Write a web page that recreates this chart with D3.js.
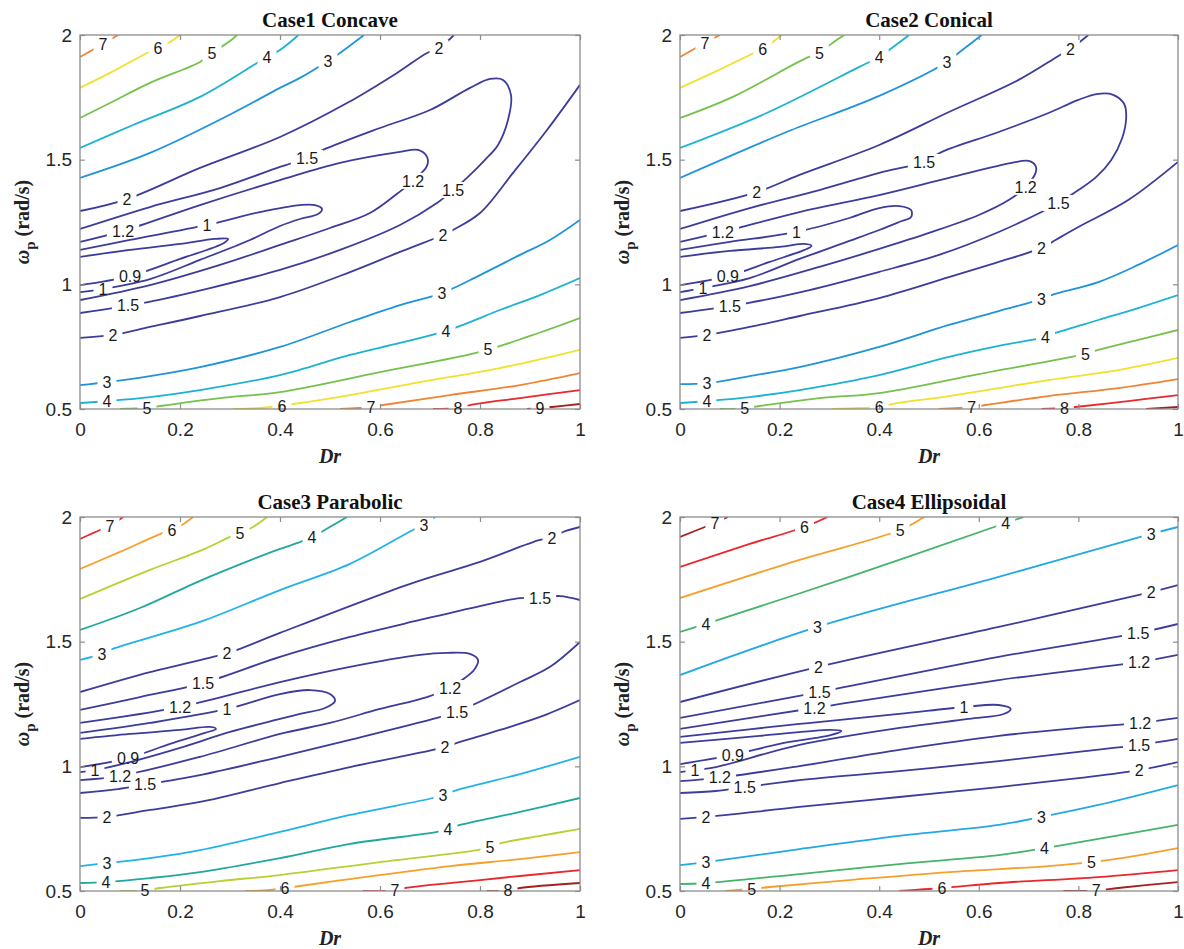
<!DOCTYPE html>
<html>
<head>
<meta charset="utf-8">
<script src="https://cdn.jsdelivr.net/npm/d3@7"></script>
<style>
  body { margin: 0; background: #fff; overflow: hidden; }
</style>
</head>
<body>
<div id="chart"></div>
<script>
// ---- data: [Dr, omega_p] points along each contour ----
const xTicks = [0, 0.2, 0.4, 0.6, 0.8, 1];
const yTicks = [0.5, 1, 1.5, 2];
const caseTitles = ["Case1 Concave", "Case2 Conical", "Case3 Parabolic", "Case4 Ellipsoidal"];
const xLabel = "Dr";

const case1Contours = [
  {level: 7, pts: [[0,1.912],[0.046,1.964],[0.076,2.0]], labels: [[0.046,1.964]]},
  {level: 6, pts: [[0,1.788],[0.06,1.848],[0.134,1.928],[0.156,1.948],[0.18,1.972],[0.2,2.0]], labels: [[0.156,1.948]]},
  {level: 5, pts: [[0,1.667],[0.06,1.727],[0.14,1.808],[0.24,1.892],[0.264,1.928],[0.30,1.976],[0.314,2.0]], labels: [[0.264,1.928]]},
  {level: 4, pts: [[0,1.547],[0.106,1.639],[0.24,1.752],[0.354,1.888],[0.374,1.912],[0.40,1.94],[0.437,2.0]], labels: [[0.374,1.912]]},
  {level: 3, pts: [[0,1.427],[0.14,1.527],[0.306,1.687],[0.40,1.788],[0.44,1.828],[0.496,1.896],[0.52,1.928],[0.568,2.0]], labels: [[0.496,1.896]]},
  {level: 2, pts: [[0,1.294],[0.094,1.342],[0.24,1.467],[0.40,1.591],[0.534,1.727],[0.634,1.848],[0.694,1.928],[0.718,1.948],[0.748,2.0]], labels: [[0.094,1.342],[0.718,1.948]]},
  {level: 1.5, pts: [[0,1.222],[0.14,1.310],[0.28,1.386],[0.40,1.471],[0.454,1.507],[0.486,1.539],[0.60,1.627],[0.70,1.699],[0.78,1.788],[0.82,1.824],[0.846,1.820],[0.862,1.759],[0.856,1.659],[0.836,1.559],[0.81,1.499],[0.776,1.431],[0.746,1.378],[0.714,1.326],[0.64,1.238],[0.52,1.138],[0.40,1.058],[0.26,0.985],[0.136,0.929],[0,0.885]], labels: [[0.454,1.507],[0.746,1.378],[0.096,0.917]]},
  {level: 1.2, pts: [[0,1.170],[0.086,1.214],[0.24,1.318],[0.40,1.418],[0.52,1.487],[0.64,1.531],[0.676,1.539],[0.694,1.511],[0.694,1.475],[0.666,1.415],[0.636,1.366],[0.58,1.286],[0.50,1.226],[0.40,1.158],[0.28,1.078],[0.14,0.997],[0,0.937]], labels: [[0.086,1.214],[0.666,1.415]]},
  {level: 1, pts: [[0,1.138],[0.10,1.178],[0.254,1.238],[0.36,1.290],[0.44,1.318],[0.47,1.318],[0.484,1.302],[0.476,1.282],[0.44,1.262],[0.40,1.234],[0.34,1.178],[0.24,1.098],[0.14,1.021],[0.046,0.981],[0,0.969]], labels: [[0.254,1.238],[0.046,0.981]]},
  {level: 0.9, pts: [[0,1.110],[0.10,1.138],[0.20,1.162],[0.27,1.182],[0.296,1.182],[0.288,1.166],[0.20,1.102],[0.10,1.033],[0,0.997]], labels: [[0.10,1.033]]},
  {level: 2, pts: [[0,0.785],[0.066,0.797],[0.14,0.829],[0.24,0.873],[0.40,0.949],[0.54,1.049],[0.64,1.130],[0.726,1.198],[0.746,1.218],[0.80,1.286],[0.866,1.447],[0.934,1.619],[1.0,1.80]], labels: [[0.066,0.797],[0.726,1.198]]},
  {level: 3, pts: [[0,0.596],[0.054,0.608],[0.14,0.632],[0.24,0.668],[0.40,0.749],[0.54,0.849],[0.64,0.917],[0.724,0.965],[0.80,1.037],[0.88,1.118],[0.94,1.178],[1.0,1.258]], labels: [[0.054,0.608],[0.724,0.965]]},
  {level: 4, pts: [[0,0.524],[0.054,0.532],[0.14,0.548],[0.24,0.576],[0.40,0.636],[0.54,0.717],[0.64,0.765],[0.732,0.813],[0.84,0.897],[0.92,0.957],[1.0,1.025]], labels: [[0.054,0.532],[0.732,0.813]]},
  {level: 5, pts: [[0.08,0.5],[0.134,0.504],[0.16,0.512],[0.28,0.544],[0.40,0.568],[0.60,0.648],[0.80,0.729],[0.90,0.793],[1.0,0.865]], labels: [[0.134,0.504],[0.816,0.741]]},
  {level: 6, pts: [[0.306,0.5],[0.36,0.504],[0.426,0.52],[0.54,0.556],[0.68,0.608],[0.84,0.664],[1.0,0.737]], labels: [[0.404,0.512]]},
  {level: 7, pts: [[0.52,0.5],[0.582,0.508],[0.606,0.516],[0.74,0.556],[0.88,0.596],[1.0,0.644]], labels: [[0.582,0.508]]},
  {level: 8, pts: [[0.706,0.5],[0.756,0.504],[0.78,0.516],[0.88,0.544],[1.0,0.576]], labels: [[0.756,0.504]]},
  {level: 9, pts: [[0.894,0.5],[0.92,0.504],[0.944,0.508],[1.0,0.52]], labels: [[0.92,0.504]]}
];

const case2Contours = [
  {level: 7, pts: [[0,1.912],[0.05,1.968],[0.08,2.0]], labels: [[0.05,1.968]]},
  {level: 6, pts: [[0,1.788],[0.07,1.852],[0.14,1.920],[0.166,1.944],[0.204,2.0]], labels: [[0.166,1.944]]},
  {level: 5, pts: [[0,1.667],[0.106,1.752],[0.254,1.908],[0.28,1.928],[0.306,1.968],[0.33,2.0]], labels: [[0.28,1.928]]},
  {level: 4, pts: [[0,1.547],[0.174,1.687],[0.36,1.872],[0.40,1.912],[0.42,1.94],[0.46,2.0]], labels: [[0.40,1.912]]},
  {level: 3, pts: [[0,1.427],[0.214,1.611],[0.40,1.756],[0.536,1.892],[0.554,1.920],[0.606,2.0]], labels: [[0.536,1.892]]},
  {level: 2, pts: [[0,1.294],[0.154,1.370],[0.24,1.439],[0.40,1.559],[0.54,1.691],[0.68,1.820],[0.76,1.916],[0.784,1.944],[0.82,2.0]], labels: [[0.154,1.370],[0.784,1.944]]},
  {level: 1.5, pts: [[0,1.222],[0.14,1.306],[0.28,1.378],[0.40,1.447],[0.49,1.491],[0.526,1.531],[0.64,1.611],[0.74,1.687],[0.80,1.740],[0.84,1.764],[0.87,1.760],[0.892,1.723],[0.896,1.671],[0.888,1.587],[0.866,1.499],[0.836,1.431],[0.80,1.378],[0.76,1.326],[0.726,1.290],[0.64,1.210],[0.52,1.118],[0.40,1.050],[0.26,0.977],[0.136,0.925],[0,0.885]], labels: [[0.49,1.491],[0.76,1.326],[0.10,0.913]]},
  {level: 1.2, pts: [[0,1.170],[0.086,1.210],[0.24,1.290],[0.40,1.358],[0.54,1.427],[0.666,1.487],[0.70,1.495],[0.714,1.475],[0.714,1.447],[0.694,1.391],[0.66,1.338],[0.60,1.278],[0.50,1.206],[0.40,1.142],[0.28,1.070],[0.14,0.993],[0,0.937]], labels: [[0.086,1.210],[0.694,1.391]]},
  {level: 1, pts: [[0,1.138],[0.10,1.170],[0.234,1.210],[0.34,1.266],[0.40,1.306],[0.44,1.314],[0.464,1.298],[0.464,1.270],[0.44,1.250],[0.40,1.218],[0.34,1.174],[0.24,1.102],[0.14,1.025],[0.046,0.985],[0,0.969]], labels: [[0.234,1.210],[0.046,0.985]]},
  {level: 0.9, pts: [[0,1.110],[0.10,1.134],[0.20,1.150],[0.25,1.162],[0.264,1.154],[0.25,1.138],[0.18,1.090],[0.096,1.033],[0,0.997]], labels: [[0.096,1.033]]},
  {level: 2, pts: [[0,0.785],[0.054,0.797],[0.14,0.829],[0.24,0.873],[0.40,0.945],[0.54,1.029],[0.64,1.090],[0.726,1.146],[0.754,1.178],[0.80,1.230],[0.90,1.338],[1.0,1.491]], labels: [[0.054,0.797],[0.726,1.146]]},
  {level: 3, pts: [[0,0.600],[0.054,0.604],[0.14,0.632],[0.24,0.668],[0.40,0.749],[0.54,0.837],[0.64,0.893],[0.726,0.941],[0.746,0.957],[0.84,1.009],[0.92,1.078],[1.0,1.158]], labels: [[0.054,0.604],[0.726,0.941]]},
  {level: 4, pts: [[0,0.524],[0.054,0.532],[0.14,0.548],[0.24,0.576],[0.40,0.636],[0.54,0.709],[0.64,0.753],[0.734,0.789],[0.754,0.805],[0.84,0.857],[0.92,0.905],[1.0,0.957]], labels: [[0.054,0.532],[0.734,0.789]]},
  {level: 5, pts: [[0.08,0.5],[0.13,0.502],[0.16,0.512],[0.28,0.544],[0.40,0.564],[0.60,0.640],[0.814,0.721],[0.84,0.737],[0.92,0.777],[1.0,0.817]], labels: [[0.13,0.504],[0.814,0.721]]},
  {level: 6, pts: [[0.306,0.5],[0.36,0.504],[0.40,0.508],[0.426,0.52],[0.54,0.552],[0.74,0.616],[0.88,0.656],[1.0,0.705]], labels: [[0.40,0.508]]},
  {level: 7, pts: [[0.52,0.5],[0.586,0.508],[0.614,0.516],[0.74,0.552],[0.88,0.584],[1.0,0.620]], labels: [[0.586,0.508]]},
  {level: 8, pts: [[0.726,0.5],[0.772,0.504],[0.794,0.508],[0.90,0.532],[1.0,0.556]], labels: [[0.772,0.504]]},
  {level: 9, pts: [[0.936,0.5],[1.0,0.508]], labels: []}
];

const case3Contours = [
  {level: 7, pts: [[0,1.912],[0.04,1.948],[0.06,1.964],[0.086,2.0]], labels: [[0.06,1.964]]},
  {level: 6, pts: [[0,1.792],[0.08,1.860],[0.166,1.936],[0.184,1.948],[0.204,1.968],[0.226,2.0]], labels: [[0.184,1.948]]},
  {level: 5, pts: [[0,1.671],[0.14,1.788],[0.24,1.864],[0.30,1.920],[0.32,1.936],[0.346,1.960],[0.374,2.0]], labels: [[0.32,1.936]]},
  {level: 4, pts: [[0,1.547],[0.12,1.635],[0.24,1.744],[0.34,1.826],[0.40,1.872],[0.446,1.904],[0.464,1.920],[0.486,1.944],[0.534,2.0]], labels: [[0.464,1.920]]},
  {level: 3, pts: [[0,1.427],[0.044,1.451],[0.06,1.467],[0.24,1.579],[0.40,1.707],[0.54,1.812],[0.666,1.948],[0.688,1.968],[0.71,2.0]], labels: [[0.044,1.451],[0.688,1.968]]},
  {level: 2, pts: [[0,1.298],[0.14,1.378],[0.266,1.439],[0.294,1.455],[0.314,1.467],[0.40,1.535],[0.666,1.736],[0.80,1.820],[0.92,1.908],[0.944,1.916],[0.966,1.940],[1.0,1.960]], labels: [[0.294,1.455],[0.944,1.916]]},
  {level: 1.5, pts: [[0,1.226],[0.12,1.278],[0.246,1.334],[0.40,1.439],[0.54,1.519],[0.68,1.587],[0.80,1.643],[0.88,1.675],[0.92,1.675],[0.96,1.683],[1.0,1.667]], labels: [[0.246,1.334],[0.92,1.675]]},
  {level: 1.5, pts: [[1.0,1.499],[0.94,1.399],[0.88,1.338],[0.794,1.254],[0.754,1.218],[0.714,1.194],[0.54,1.106],[0.40,1.038],[0.24,0.965],[0.13,0.927],[0.076,0.909],[0,0.893]], labels: [[0.754,1.218],[0.13,0.927]]},
  {level: 1.2, pts: [[0,1.174],[0.20,1.238],[0.40,1.338],[0.54,1.399],[0.68,1.447],[0.734,1.455],[0.78,1.451],[0.796,1.427],[0.788,1.386],[0.764,1.346],[0.74,1.314],[0.694,1.278],[0.60,1.230],[0.50,1.174],[0.40,1.130],[0.24,1.038],[0.08,0.962],[0,0.945]], labels: [[0.20,1.238],[0.74,1.314],[0.08,0.962]]},
  {level: 1, pts: [[0,1.134],[0.14,1.174],[0.294,1.230],[0.40,1.290],[0.46,1.306],[0.50,1.290],[0.51,1.262],[0.49,1.234],[0.44,1.210],[0.40,1.190],[0.30,1.138],[0.20,1.074],[0.10,1.017],[0.03,0.985],[0,0.977]], labels: [[0.294,1.230],[0.03,0.985]]},
  {level: 0.9, pts: [[0,1.110],[0.10,1.130],[0.20,1.146],[0.26,1.158],[0.272,1.150],[0.25,1.134],[0.18,1.090],[0.096,1.033],[0,0.997]], labels: [[0.096,1.033]]},
  {level: 2, pts: [[0,0.793],[0.054,0.797],[0.14,0.825],[0.24,0.857],[0.40,0.933],[0.54,0.997],[0.706,1.066],[0.73,1.078],[0.754,1.094],[0.84,1.146],[0.92,1.198],[1.0,1.266]], labels: [[0.054,0.797],[0.73,1.078]]},
  {level: 3, pts: [[0,0.600],[0.054,0.612],[0.14,0.632],[0.24,0.664],[0.40,0.737],[0.54,0.805],[0.706,0.873],[0.726,0.885],[0.754,0.905],[0.88,0.969],[1.0,1.038]], labels: [[0.054,0.612],[0.726,0.885]]},
  {level: 4, pts: [[0,0.532],[0.052,0.536],[0.14,0.552],[0.24,0.576],[0.40,0.632],[0.54,0.689],[0.714,0.737],[0.736,0.749],[0.76,0.765],[0.88,0.817],[1.0,0.873]], labels: [[0.052,0.536],[0.736,0.749]]},
  {level: 5, pts: [[0.08,0.5],[0.13,0.502],[0.16,0.512],[0.28,0.540],[0.40,0.564],[0.60,0.616],[0.794,0.664],[0.82,0.676],[0.844,0.693],[0.92,0.721],[1.0,0.749]], labels: [[0.13,0.504],[0.82,0.676]]},
  {level: 6, pts: [[0.33,0.5],[0.38,0.504],[0.41,0.512],[0.426,0.516],[0.54,0.548],[0.74,0.600],[0.88,0.628],[1.0,0.656]], labels: [[0.41,0.512]]},
  {level: 7, pts: [[0.566,0.5],[0.63,0.502],[0.65,0.512],[0.80,0.544],[1.0,0.584]], labels: [[0.63,0.504]]},
  {level: 8, pts: [[0.814,0.5],[0.856,0.502],[0.88,0.512],[1.0,0.532]], labels: [[0.856,0.504]]}
];

const case4Contours = [
  {level: 7, pts: [[0,1.920],[0.05,1.960],[0.07,1.976],[0.096,2.0]], labels: [[0.07,1.976]]},
  {level: 6, pts: [[0,1.800],[0.14,1.892],[0.25,1.960],[0.296,2.0]], labels: [[0.25,1.960]]},
  {level: 5, pts: [[0,1.675],[0.24,1.828],[0.442,1.948],[0.49,2.0]], labels: [[0.442,1.948]]},
  {level: 4, pts: [[0,1.539],[0.052,1.571],[0.34,1.760],[0.654,1.976],[0.69,2.0]], labels: [[0.052,1.571],[0.654,1.976]]},
  {level: 3, pts: [[0,1.366],[0.276,1.559],[0.64,1.760],[0.946,1.932],[1.0,1.960]], labels: [[0.276,1.559],[0.946,1.932]]},
  {level: 2, pts: [[0,1.258],[0.278,1.399],[0.64,1.559],[0.946,1.699],[1.0,1.727]], labels: [[0.278,1.399],[0.946,1.699]]},
  {level: 1.5, pts: [[0,1.194],[0.28,1.298],[0.64,1.439],[0.92,1.535],[1.0,1.571]], labels: [[0.28,1.298],[0.92,1.535]]},
  {level: 1.2, pts: [[0,1.150],[0.27,1.234],[0.64,1.346],[0.922,1.419],[1.0,1.447]], labels: [[0.27,1.234],[0.922,1.419]]},
  {level: 1, pts: [[0,1.118],[0.24,1.170],[0.44,1.210],[0.57,1.238],[0.64,1.246],[0.664,1.230],[0.65,1.210],[0.58,1.190],[0.44,1.154],[0.24,1.086],[0.072,0.997],[0.03,0.985],[0,0.977]], labels: [[0.57,1.238],[0.03,0.985]]},
  {level: 0.9, pts: [[0,1.094],[0.16,1.122],[0.30,1.146],[0.324,1.142],[0.304,1.126],[0.20,1.090],[0.106,1.046],[0,1.009]], labels: [[0.106,1.046]]},
  {level: 1.2, pts: [[0,0.941],[0.08,0.955],[0.24,1.001],[0.44,1.066],[0.64,1.122],[0.80,1.154],[0.924,1.174],[1.0,1.194]], labels: [[0.08,0.955],[0.924,1.174]]},
  {level: 1.5, pts: [[0,0.893],[0.072,0.901],[0.13,0.916],[0.24,0.945],[0.44,0.981],[0.64,1.021],[0.80,1.058],[0.922,1.086],[1.0,1.110]], labels: [[0.13,0.916],[0.922,1.086]]},
  {level: 2, pts: [[0,0.789],[0.052,0.797],[0.24,0.837],[0.44,0.877],[0.64,0.917],[0.80,0.953],[0.922,0.985],[1.0,1.017]], labels: [[0.052,0.797],[0.922,0.985]]},
  {level: 3, pts: [[0,0.604],[0.052,0.616],[0.24,0.668],[0.44,0.721],[0.64,0.765],[0.726,0.797],[0.84,0.845],[1.0,0.925]], labels: [[0.052,0.616],[0.726,0.797]]},
  {level: 4, pts: [[0,0.528],[0.052,0.532],[0.24,0.568],[0.44,0.608],[0.64,0.644],[0.732,0.672],[0.84,0.709],[1.0,0.765]], labels: [[0.052,0.532],[0.732,0.672]]},
  {level: 5, pts: [[0.09,0.5],[0.144,0.508],[0.18,0.516],[0.34,0.544],[0.54,0.576],[0.74,0.600],[0.826,0.616],[0.90,0.636],[1.0,0.672]], labels: [[0.144,0.508],[0.826,0.616]]},
  {level: 6, pts: [[0.44,0.5],[0.526,0.512],[0.64,0.532],[0.84,0.556],[1.0,0.584]], labels: [[0.526,0.512]]},
  {level: 7, pts: [[0.77,0.5],[0.836,0.502],[0.88,0.512],[1.0,0.536]], labels: [[0.836,0.504]]}
];

const allCases = [case1Contours, case2Contours, case3Contours, case4Contours];

// ---- styles ----
const indigo = "#3c3c9c";
const paletteA = {0.9: indigo, 1: indigo, 1.2: indigo, 1.5: indigo, 2: indigo,
  3: "#1f93dc", 4: "#1bb3cf", 5: "#74c24c", 6: "#f0e22c", 7: "#f08434", 8: "#e8282c", 9: "#a51f1f"};
const paletteC = {0.9: indigo, 1: indigo, 1.2: indigo, 1.5: indigo, 2: indigo,
  3: "#22b2ea", 4: "#20a79e", 5: "#b5d232", 6: "#f6a02a", 7: "#e8282c", 8: "#a51f1f"};
const paletteD = {0.9: indigo, 1: indigo, 1.2: indigo, 1.5: indigo, 2: indigo,
  3: "#22a8e5", 4: "#45b46a", 5: "#f5a02a", 6: "#e8282c", 7: "#a51f1f"};
const casePalettes = [paletteA, paletteA, paletteC, paletteD];

const sansFont = "'Liberation Sans', Arial, Helvetica, sans-serif";
const serifFont = "'Liberation Serif', 'Times New Roman', serif";
const axisGrey = "#8c8c8c";

const plotH = 374;
const layout = [
  {left: 80, top: 35, w: 500},
  {left: 680, top: 35, w: 498},
  {left: 80, top: 517, w: 500},
  {left: 680, top: 517, w: 498}
];

const svg = d3.select("#chart").append("svg")
  .attr("width", 1184)
  .attr("height", 949);
const defs = svg.append("defs");

caseTitles.forEach(function(title, i) {
  const box = layout[i];
  const contours = allCases[i];
  const colors = casePalettes[i];

  const g = svg.append("g").attr("transform", "translate(" + box.left + "," + box.top + ")");
  const x = d3.scaleLinear().domain([0, 1]).range([0, box.w]);
  const y = d3.scaleLinear().domain([0.5, 2]).range([plotH, 0]);

  defs.append("clipPath").attr("id", "clip" + i)
    .append("rect").attr("width", box.w).attr("height", plotH);

  const lineLayer = g.append("g").attr("clip-path", "url(#clip" + i + ")");

  // frame + inward ticks on all four sides
  g.append("rect")
    .attr("width", box.w).attr("height", plotH)
    .attr("fill", "none").attr("stroke", axisGrey).attr("stroke-width", 1.3);

  const axB = g.append("g").attr("transform", "translate(0," + plotH + ")")
    .call(d3.axisBottom(x).tickValues(xTicks).tickSize(-5).tickPadding(14).tickFormat(d => String(d)));
  const axL = g.append("g")
    .call(d3.axisLeft(y).tickValues(yTicks).tickSize(-5).tickPadding(8).tickFormat(d => String(d)));
  const axT = g.append("g")
    .call(d3.axisTop(x).tickValues(xTicks).tickSize(-5).tickFormat(""));
  const axR = g.append("g").attr("transform", "translate(" + box.w + ",0)")
    .call(d3.axisRight(y).tickValues(yTicks).tickSize(-5).tickFormat(""));
  [axB, axL, axT, axR].forEach(function(a) {
    a.select(".domain").remove();
    a.attr("font-size", 19).attr("font-family", sansFont);
    a.selectAll(".tick line").attr("stroke", axisGrey).attr("stroke-width", 1.2);
    a.selectAll(".tick text").attr("fill", "#262626");
  });

  // title
  g.append("text")
    .attr("x", box.w / 2).attr("y", -8)
    .attr("text-anchor", "middle")
    .attr("font-family", serifFont).attr("font-weight", "bold").attr("font-size", 21)
    .attr("fill", "#111")
    .text(title);

  // x label
  g.append("text")
    .attr("x", box.w / 2).attr("y", plotH + 54)
    .attr("text-anchor", "middle")
    .attr("font-family", serifFont).attr("font-weight", "bold").attr("font-style", "italic")
    .attr("font-size", 20).attr("fill", "#222")
    .text(xLabel);

  // y label
  const yl = g.append("text")
    .attr("transform", "translate(-51," + (plotH / 2) + ") rotate(-90)")
    .attr("text-anchor", "middle")
    .attr("font-family", serifFont).attr("font-weight", "bold")
    .attr("font-size", 20).attr("fill", "#222");
  yl.append("tspan").attr("font-style", "italic").text("ω");
  yl.append("tspan").attr("font-size", 15).attr("dy", 6).text("p");
  yl.append("tspan").attr("dy", -6).text(" (rad/s)");

  // contour lines with inline labels (gap cut with a mask, like clabel)
  const labelLayer = g.append("g")
    .attr("font-family", sansFont).attr("font-size", 16).attr("fill", "#1a1a1a");

  const line = d3.line()
    .x(d => x(d[0]))
    .y(d => y(d[1]))
    .curve(d3.curveCatmullRom.alpha(0.5));

  contours.forEach(function(c, j) {
    const gaps = [];
    c.labels.forEach(function(p) {
      const t = labelLayer.append("text")
        .attr("x", x(p[0])).attr("y", y(p[1]))
        .attr("dy", "0.36em")
        .attr("text-anchor", "middle")
        .text(String(c.level));
      const tw = t.node().getComputedTextLength();
      gaps.push({cx: x(p[0]), cy: y(p[1]), w: tw + 10, h: 16});
    });

    const path = lineLayer.append("path")
      .datum(c.pts)
      .attr("d", line)
      .attr("fill", "none")
      .attr("stroke", colors[c.level])
      .attr("stroke-width", 1.8)
      .attr("stroke-linejoin", "round");

    if (gaps.length) {
      const id = "gap" + i + "_" + j;
      const m = defs.append("mask").attr("id", id)
        .attr("maskUnits", "userSpaceOnUse")
        .attr("x", -20).attr("y", -20)
        .attr("width", box.w + 40).attr("height", plotH + 40);
      m.append("rect")
        .attr("x", -20).attr("y", -20)
        .attr("width", box.w + 40).attr("height", plotH + 40)
        .attr("fill", "white");
      gaps.forEach(function(gp) {
        m.append("rect")
          .attr("x", gp.cx - gp.w / 2).attr("y", gp.cy - gp.h / 2)
          .attr("width", gp.w).attr("height", gp.h)
          .attr("fill", "black");
      });
      path.attr("mask", "url(#" + id + ")");
    }
  });
});
</script>
</body>
</html>
